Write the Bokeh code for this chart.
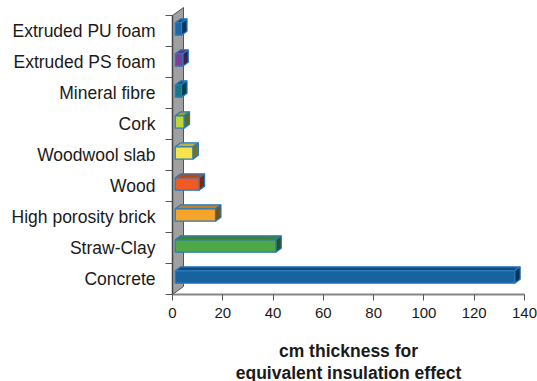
from bokeh.plotting import figure
from bokeh.models import Range1d, FixedTicker, ColumnDataSource
from bokeh.core.properties import value
from bokeh.embed import file_html
from bokeh.resources import INLINE

# ---- data (bottom to top) ----
categories = ["Concrete", "Straw-Clay", "High porosity brick", "Wood",
              "Woodwool slab", "Cork", "Mineral fibre", "Extruded PS foam",
              "Extruded PU foam"]
values = [135, 40, 16, 9.5, 7, 3.5, 2.5, 3, 2.5]
colors = ["#1763a0", "#4fa847", "#f5a52a", "#f05a23", "#f7e44c",
          "#bcd63a", "#14788a", "#7b3f98", "#1a68a8"]
x_ticks = [0, 20, 40, 60, 80, 100, 120, 140]
x_title_lines = ["cm thickness for", "equivalent insulation effect"]

# ---- layout / 3D geometry ----
N = len(categories)
W, H = 537, 381
PX_Y = 31.0                      # pixels per category
PX_X = 352 / 140                 # pixels per cm
ORIGIN_X, ORIGIN_Y = 172, 294    # axes crossing, pixels from top-left
X_START, X_END = -ORIGIN_X / PX_X, (W - ORIGIN_X) / PX_X
Y_TOP, Y_BOT = ORIGIN_Y / PX_Y, -(H - ORIGIN_Y) / PX_Y

WDX, WDY = 11 / PX_X, 8 / PX_Y   # depth of the back wall
BAR_H = 0.4
OFFX, OFFY = 0.25 * WDX, 0.25 * WDY
DX, DY = 0.5 * WDX, 0.5 * WDY


def shade(hexcol, f):
    h = hexcol.lstrip("#")
    r, g, b = (int(h[i:i + 2], 16) for i in (0, 2, 4))
    return "#%02x%02x%02x" % (int(r * f), int(g * f), int(b * f))


p = figure(width=W, height=H, output_backend="svg",
           toolbar_location=None, x_range=Range1d(X_START, X_END),
           y_range=Range1d(Y_BOT, Y_TOP), min_border_left=0,
           min_border_right=0, min_border_top=0, min_border_bottom=0)
p.outline_line_color = None
p.xgrid.visible = False
p.ygrid.visible = False
p.background_fill_color = "white"
p.border_fill_color = "white"

# back wall
p.patch([0, WDX, WDX, 0], [0, WDY, N + WDY, N], fill_color="#a0a0a0",
        line_color="#555555", line_width=1)

# bars
fx, fy, fc = [], [], []
tx, ty, tc = [], [], []
sx, sy, sc = [], [], []
for i, (v, c) in enumerate(zip(values, colors)):
    x0, x1 = OFFX, OFFX + v
    y0 = i + 0.5 - BAR_H / 2 + OFFY
    y1 = i + 0.5 + BAR_H / 2 + OFFY
    fx.append([x0, x1, x1, x0]); fy.append([y0, y0, y1, y1]); fc.append(c)
    tx.append([x0, x1, x1 + DX, x0 + DX]); ty.append([y1, y1, y1 + DY, y1 + DY])
    tc.append(shade(c, 0.78))
    sx.append([x1, x1 + DX, x1 + DX, x1]); sy.append([y0, y0 + DY, y1 + DY, y1])
    sc.append(shade(c, 0.5))

p.patches(tx, ty, fill_color=tc, line_color="#2a78be", line_width=1.2)
p.patches(sx, sy, fill_color=sc, line_color="#2a78be", line_width=1.2)
p.patches(fx, fy, fill_color=fc, line_color="#2a78be", line_width=1.2)

# y axis at x = 0 (category labels at band centres, ticks at boundaries)
yax = p.yaxis[0]
yax.fixed_location = 0
yax.ticker = FixedTicker(ticks=[i + 0.5 for i in range(N)],
                         minor_ticks=list(range(N + 1)))
yax.major_label_overrides = {i + 0.5: c for i, c in enumerate(categories)}
yax.bounds = (0, N)
yax.major_tick_out = 0
yax.major_tick_in = 0
yax.minor_tick_out = 7
yax.minor_tick_in = 0
yax.minor_tick_line_color = "#555555"
yax.axis_line_color = "#444444"
yax.axis_line_width = 1.5
yax.major_label_standoff = 10
yax.major_label_text_font = "Liberation Sans"
yax.major_label_text_font_size = "17.5px"
yax.major_label_text_color = "#1a1a1a"

# x axis at y = 0
xax = p.xaxis[0]
xax.fixed_location = 0
xax.ticker = FixedTicker(ticks=x_ticks, minor_ticks=[])
xax.bounds = (0, 140)
xax.major_tick_out = 6
xax.major_tick_in = 0
xax.major_tick_line_color = "#555555"
xax.axis_line_color = "#858585"
xax.axis_line_width = 2
xax.major_label_standoff = 7
xax.major_label_text_font = "Liberation Sans"
xax.major_label_text_font_size = "15px"
xax.major_label_text_color = "#1a1a1a"

# axis title (two centred lines below the axis)
src = ColumnDataSource(dict(x=[70, 70],
                            y=[-56 / PX_Y, -78 / PX_Y],
                            t=x_title_lines))
p.text("x", "y", text="t", source=src, text_align="center",
       text_baseline="middle", text_font=value("Liberation Sans"),
       text_font_style="bold", text_font_size="17.5px", text_color="#1a1a1a")

open("out.html", "w").write(file_html(p, INLINE))
